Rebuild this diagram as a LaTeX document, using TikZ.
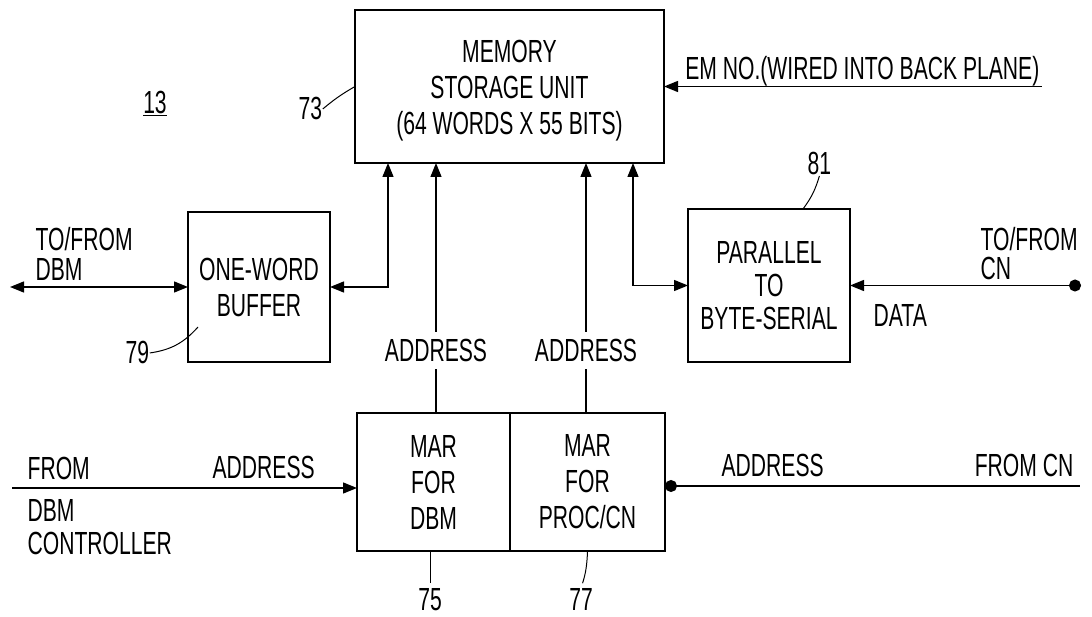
\documentclass[tikz,border=0pt]{standalone}
\usepackage{fontspec}
\setmainfont{Liberation Sans}[FakeStretch=0.66]
\usetikzlibrary{arrows.meta,positioning}

\begin{document}
\begin{tikzpicture}[x=1pt, y=-1pt, line width=1.3pt,
	>={Triangle[length=14pt,width=11pt]},
	font=\fontsize{32}{36}\selectfont]

	\tikzstyle{unit}=[draw, line width=1.8pt, inner sep=0pt, outer sep=0pt, align=center]
	\tikzstyle{txt}=[inner sep=0pt, align=left]
	\tikzstyle{lead}=[line width=1pt]
	\useasboundingbox (0,0) rectangle (1092,617);

	% blocks
	\node[unit, minimum width=309pt, minimum height=153pt] (mem) at (509.5,86.5)
		{\rule{0pt}{30pt}MEMORY\\STORAGE UNIT\\(64 WORDS X 55 BITS)};
	\node[unit, minimum width=142pt, minimum height=150pt, below left=49pt and 25pt of mem] (buf)
		{ONE-WORD\\BUFFER};
	\node[unit, minimum width=162pt, minimum height=153pt, below right=46pt and 24pt of mem,
		font=\fontsize{32}{33}\selectfont] (par) {PARALLEL\\TO\\BYTE-SERIAL};
	\node[unit, minimum width=153pt, minimum height=138pt] (marA) at (433.5,482) {MAR\\FOR\\DBM};
	\node[unit, minimum width=155pt, minimum height=138pt, right=0pt of marA] (marB) {MAR\\FOR\\PROC/CN};

	% free ends
	\coordinate (m1) at (388,163);
	\coordinate (m2) at (436,163);
	\coordinate (m3) at (586,163);
	\coordinate (m4) at (633,163);
	\coordinate (emend) at (1042,86.5);
	\coordinate (dbmend) at (10,287);
	\coordinate (cnend) at (1081,285.5);
	\coordinate (ctlend) at (12,488);
	\coordinate (adrend) at (1080,486);
	\coordinate (b79) at (198,327);
	\coordinate (p81) at (803,209);

	% labels
	\node[txt, anchor=north west] (dbm) at (35,227) {TO/FROM\\[-6pt]DBM};
	\node[txt, anchor=north west] (cn) at (980,227) {TO/FROM\\[-7pt]CN};
	\node[txt, anchor=north west] (data) at (873,304) {DATA};
	\node[txt, anchor=base east] (em) at (1040,80) {EM NO.(WIRED INTO BACK PLANE)};
	\node[txt, anchor=north west] (frm) at (27,457) {FROM};
	\node[txt, anchor=north west] (ctl) at (27,499) {DBM\\[-3pt]CONTROLLER};
	\node[txt, anchor=north west] (adrA) at (212,456) {ADDRESS};
	\node[txt, anchor=north west] (adrB) at (721,454) {ADDRESS};
	\node[txt, anchor=north east] (frmcn) at (1074,454) {FROM CN};

	% reference numbers
	\node[txt] (n13) at (155,103) {\underline{13}};
	\node[txt, anchor=north west] (n73) at (298,97) {73};
	\node[txt, anchor=north west] (n79) at (125,341) {79};
	\node[txt, anchor=north west] (n81) at (807,152) {81};
	\node[txt, anchor=north] (n75) at (430,588) {75};
	\node[txt, anchor=north] (n77) at (581,588) {77};

	% into the memory
	\draw[<->] (buf.east) -| (m1);
	\draw[<->] (par.west) -| (m4);
	\draw[->] (m2 |- marA.north) -- node[pos=0.25, fill=white, inner xsep=0pt, inner ysep=7pt] {ADDRESS} (m2);
	\draw[->] (m3 |- marB.north) -- node[pos=0.25, fill=white, inner xsep=0pt, inner ysep=7pt] {ADDRESS} (m3);
	\draw[<-] (mem.east) -- (emend);

	% outside lines
	\draw[<->] (dbmend) -- (buf.west);
	\draw[{Triangle[length=14pt,width=11pt]}-{Circle[length=12pt]}] (par.east) -- (cnend);
	\draw[->] (ctlend) -- (ctlend -| marA.west);
	\draw[{Circle[length=12pt]}-] (marB.east |- adrend) -- (adrend);

	% leaders
	\draw[lead] (n73.east) to[bend left=5] (mem.west);
	\draw[lead] (n79.east) to[bend right=20] (b79);
	\draw[lead] (n81.south) to[bend left=10] (p81);
	\draw[lead, shorten <=5pt] (n75.north) -- (n75.north |- marA.south);
	\draw[lead, shorten <=5pt] (n77.north) to[bend right=8] (marB.south);

\end{tikzpicture}
\end{document}
